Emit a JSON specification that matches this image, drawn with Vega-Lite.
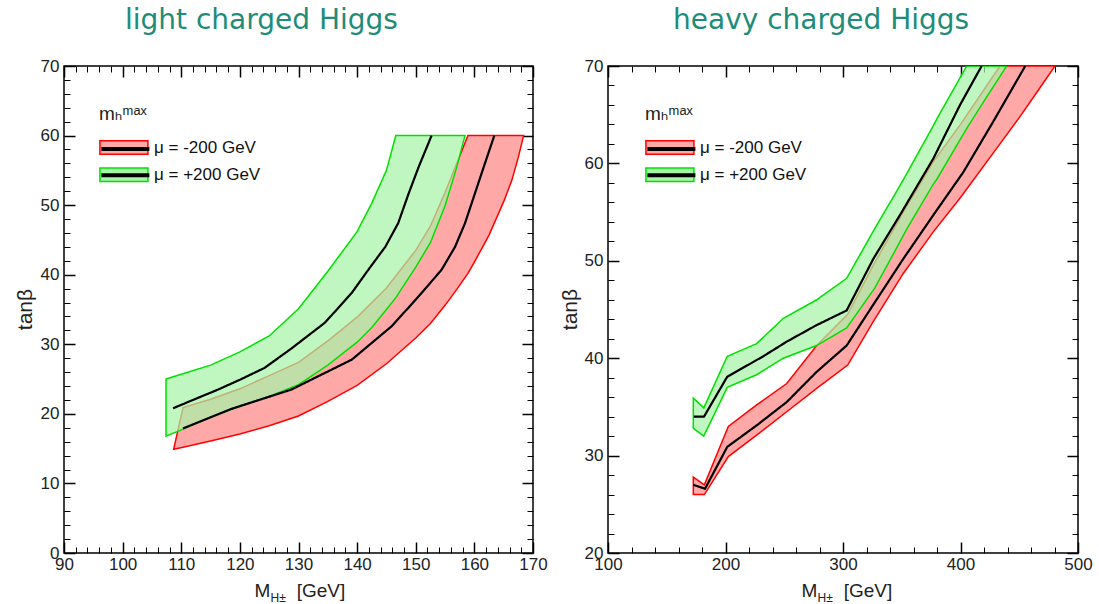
{
  "$schema": "https://vega.github.io/schema/vega-lite/v6.json",
  "background": "white",
  "padding": {"left": 13, "top": 6, "right": 5, "bottom": 5},
  "spacing": 75,
  "bounds": "flush",
  "config": {
    "view": {"stroke": "black", "strokeWidth": 1.5},
    "axis": {
      "grid": false, "domain": false,
      "labelFont": "Liberation Sans", "labelFontSize": 17, "labelColor": "#222",
      "titleFont": "Liberation Sans", "titleFontSize": 19, "titleFontWeight": "normal", "titleColor": "#222",
      "tickColor": "black", "labelFlush": false, "labelOverlap": false
    },
    "legend": {
      "orient": "none", "direction": "vertical", "padding": 0,
      "titleFont": "Liberation Sans, DejaVu Sans", "titleFontSize": 19, "titleFontWeight": "normal", "titleColor": "#222",
      "titlePadding": 13,
      "labelFont": "Liberation Sans", "labelFontSize": 17, "labelColor": "#111",
      "symbolSize": 369, "rowPadding": 6.2, "labelOffset": 34
    }
  },
  "datasets": {
    "lb": [
      {"mu": "μ = -200 GeV", "x": 108.7, "lo": 14.9, "hi": 14.9},
      {"mu": "μ = -200 GeV", "x": 110.3, "lo": 15.2, "hi": 20.9},
      {"mu": "μ = -200 GeV", "x": 115, "lo": 16.1, "hi": 22.1},
      {"mu": "μ = -200 GeV", "x": 120, "lo": 17.1, "hi": 23.6},
      {"mu": "μ = -200 GeV", "x": 125, "lo": 18.3, "hi": 25.5},
      {"mu": "μ = -200 GeV", "x": 130, "lo": 19.7, "hi": 27.4},
      {"mu": "μ = -200 GeV", "x": 135, "lo": 21.8, "hi": 30.5},
      {"mu": "μ = -200 GeV", "x": 140, "lo": 24.1, "hi": 33.9},
      {"mu": "μ = -200 GeV", "x": 145, "lo": 27.2, "hi": 38.1},
      {"mu": "μ = -200 GeV", "x": 150, "lo": 30.9, "hi": 43.5},
      {"mu": "μ = -200 GeV", "x": 152.5, "lo": 33.0, "hi": 47.0},
      {"mu": "μ = -200 GeV", "x": 155, "lo": 35.6, "hi": 51.8},
      {"mu": "μ = -200 GeV", "x": 157, "lo": 37.9, "hi": 56.0},
      {"mu": "μ = -200 GeV", "x": 158.9, "lo": 40.2, "hi": 60},
      {"mu": "μ = -200 GeV", "x": 160, "lo": 41.8, "hi": 60},
      {"mu": "μ = -200 GeV", "x": 162.5, "lo": 45.7, "hi": 60},
      {"mu": "μ = -200 GeV", "x": 165, "lo": 50.5, "hi": 60},
      {"mu": "μ = -200 GeV", "x": 166.4, "lo": 53.6, "hi": 60},
      {"mu": "μ = -200 GeV", "x": 167.5, "lo": 56.9, "hi": 60},
      {"mu": "μ = -200 GeV", "x": 168.4, "lo": 60, "hi": 60},
      {"mu": "μ = +200 GeV", "x": 107.4, "lo": 16.8, "hi": 25.0},
      {"mu": "μ = +200 GeV", "x": 110, "lo": 17.7, "hi": 25.7},
      {"mu": "μ = +200 GeV", "x": 115, "lo": 19.5, "hi": 27.0},
      {"mu": "μ = +200 GeV", "x": 120, "lo": 21.1, "hi": 28.9},
      {"mu": "μ = +200 GeV", "x": 125, "lo": 22.5, "hi": 31.2},
      {"mu": "μ = +200 GeV", "x": 130, "lo": 24.2, "hi": 35.1},
      {"mu": "μ = +200 GeV", "x": 135, "lo": 27.0, "hi": 40.5},
      {"mu": "μ = +200 GeV", "x": 140, "lo": 30.3, "hi": 46.2},
      {"mu": "μ = +200 GeV", "x": 142.5, "lo": 32.4, "hi": 50.3},
      {"mu": "μ = +200 GeV", "x": 145, "lo": 35.0, "hi": 55.0},
      {"mu": "μ = +200 GeV", "x": 146.6, "lo": 36.7, "hi": 60},
      {"mu": "μ = +200 GeV", "x": 150, "lo": 41.1, "hi": 60},
      {"mu": "μ = +200 GeV", "x": 152.5, "lo": 44.6, "hi": 60},
      {"mu": "μ = +200 GeV", "x": 155, "lo": 49.9, "hi": 60},
      {"mu": "μ = +200 GeV", "x": 157, "lo": 55.5, "hi": 60},
      {"mu": "μ = +200 GeV", "x": 158.4, "lo": 60, "hi": 60}
    ],
    "lc": [
      {"band": "+200", "x": 108.6, "y": 20.8},
      {"band": "+200", "x": 112, "y": 22.0},
      {"band": "+200", "x": 116.3, "y": 23.5},
      {"band": "+200", "x": 120, "y": 24.9},
      {"band": "+200", "x": 124.2, "y": 26.6},
      {"band": "+200", "x": 128.8, "y": 29.4},
      {"band": "+200", "x": 134.5, "y": 33.1},
      {"band": "+200", "x": 139.1, "y": 37.4},
      {"band": "+200", "x": 141.9, "y": 40.7},
      {"band": "+200", "x": 144.8, "y": 44.0},
      {"band": "+200", "x": 147.0, "y": 47.4},
      {"band": "+200", "x": 148.8, "y": 51.7},
      {"band": "+200", "x": 150.5, "y": 55.5},
      {"band": "+200", "x": 152.7, "y": 60},
      {"band": "-200", "x": 110.3, "y": 17.9},
      {"band": "-200", "x": 118.5, "y": 20.7},
      {"band": "-200", "x": 128.8, "y": 23.5},
      {"band": "-200", "x": 139.1, "y": 27.8},
      {"band": "-200", "x": 145.9, "y": 32.6},
      {"band": "-200", "x": 150.5, "y": 36.9},
      {"band": "-200", "x": 154.4, "y": 40.7},
      {"band": "-200", "x": 156.7, "y": 44.0},
      {"band": "-200", "x": 158.4, "y": 47.4},
      {"band": "-200", "x": 160.1, "y": 51.7},
      {"band": "-200", "x": 161.8, "y": 56.0},
      {"band": "-200", "x": 163.4, "y": 60}
    ],
    "hb": [
      {"mu": "μ = -200 GeV", "x": 172.6, "lo": 26.0, "hi": 27.8},
      {"mu": "μ = -200 GeV", "x": 182, "lo": 26.0, "hi": 27.0},
      {"mu": "μ = -200 GeV", "x": 202.4, "lo": 29.9, "hi": 33.0},
      {"mu": "μ = -200 GeV", "x": 226.5, "lo": 32.1, "hi": 35.2},
      {"mu": "μ = -200 GeV", "x": 252.1, "lo": 34.5, "hi": 37.4},
      {"mu": "μ = -200 GeV", "x": 277.6, "lo": 36.9, "hi": 41.3},
      {"mu": "μ = -200 GeV", "x": 304, "lo": 39.3, "hi": 44.5},
      {"mu": "μ = -200 GeV", "x": 326, "lo": 43.8, "hi": 49.6},
      {"mu": "μ = -200 GeV", "x": 351.3, "lo": 48.7, "hi": 55.0},
      {"mu": "μ = -200 GeV", "x": 377, "lo": 53.0, "hi": 60.2},
      {"mu": "μ = -200 GeV", "x": 400, "lo": 56.5, "hi": 64.0},
      {"mu": "μ = -200 GeV", "x": 433.6, "lo": 62.0, "hi": 70},
      {"mu": "μ = -200 GeV", "x": 450, "lo": 64.7, "hi": 70},
      {"mu": "μ = -200 GeV", "x": 465, "lo": 67.3, "hi": 70},
      {"mu": "μ = -200 GeV", "x": 480.4, "lo": 70, "hi": 70},
      {"mu": "μ = +200 GeV", "x": 172.6, "lo": 32.8, "hi": 35.9},
      {"mu": "μ = +200 GeV", "x": 181.5, "lo": 32.0, "hi": 34.9},
      {"mu": "μ = +200 GeV", "x": 201.5, "lo": 37.0, "hi": 40.2},
      {"mu": "μ = +200 GeV", "x": 226.5, "lo": 38.3, "hi": 41.5},
      {"mu": "μ = +200 GeV", "x": 249.2, "lo": 40.0, "hi": 44.1},
      {"mu": "μ = +200 GeV", "x": 277.6, "lo": 41.3, "hi": 46.0},
      {"mu": "μ = +200 GeV", "x": 303.1, "lo": 43.1, "hi": 48.2},
      {"mu": "μ = +200 GeV", "x": 327, "lo": 47.2, "hi": 53.3},
      {"mu": "μ = +200 GeV", "x": 346, "lo": 51.4, "hi": 57.2},
      {"mu": "μ = +200 GeV", "x": 354, "lo": 53.2, "hi": 58.9},
      {"mu": "μ = +200 GeV", "x": 377, "lo": 57.9, "hi": 63.9},
      {"mu": "μ = +200 GeV", "x": 380, "lo": 58.4, "hi": 64.6},
      {"mu": "μ = +200 GeV", "x": 405.3, "lo": 63.6, "hi": 70},
      {"mu": "μ = +200 GeV", "x": 420, "lo": 66.4, "hi": 70},
      {"mu": "μ = +200 GeV", "x": 439.3, "lo": 70, "hi": 70}
    ],
    "hc": [
      {"band": "+200", "x": 173, "y": 34.0},
      {"band": "+200", "x": 181.7, "y": 34.0},
      {"band": "+200", "x": 201.5, "y": 38.1},
      {"band": "+200", "x": 232.2, "y": 40.2},
      {"band": "+200", "x": 252.1, "y": 41.7},
      {"band": "+200", "x": 277.6, "y": 43.4},
      {"band": "+200", "x": 303.1, "y": 44.9},
      {"band": "+200", "x": 325.8, "y": 50.2},
      {"band": "+200", "x": 348.5, "y": 54.7},
      {"band": "+200", "x": 376.9, "y": 60.5},
      {"band": "+200", "x": 399.6, "y": 66.0},
      {"band": "+200", "x": 418, "y": 70},
      {"band": "-200", "x": 172.6, "y": 27.0},
      {"band": "-200", "x": 182.6, "y": 26.6},
      {"band": "-200", "x": 201.5, "y": 30.9},
      {"band": "-200", "x": 226.5, "y": 33.1},
      {"band": "-200", "x": 252.1, "y": 35.5},
      {"band": "-200", "x": 277.6, "y": 38.6},
      {"band": "-200", "x": 303.1, "y": 41.3},
      {"band": "-200", "x": 325.8, "y": 45.5},
      {"band": "-200", "x": 351.3, "y": 50.2},
      {"band": "-200", "x": 376.9, "y": 54.7},
      {"band": "-200", "x": 402.4, "y": 59.1},
      {"band": "-200", "x": 427.9, "y": 64.3},
      {"band": "-200", "x": 455.1, "y": 70}
    ]
  },
  "hconcat": [
    {
      "width": 469, "height": 487,
      "title": {"text": "light charged Higgs", "anchor": "start", "frame": "group", "dx": 61, "offset": 0, "baseline": "alphabetic", "font": "DejaVu Sans", "fontSize": 28, "fontWeight": "normal", "color": "#1e8c78"},
      "layer": [
        {
          "data": {"name": "lb"},
          "transform": [{"filter": "datum.mu === 'μ = -200 GeV'"}],
          "mark": {"type": "area", "strokeWidth": 1.5, "fillOpacity": 1, "clip": true},
          "encoding": {
            "x": {"field": "x", "type": "quantitative", "scale": {"domain": [90, 170], "nice": false, "zero": false},
              "axis": {"orient": "bottom", "values": [90,92,94,96,98,100,102,104,106,108,110,112,114,116,118,120,122,124,126,128,130,132,134,136,138,140,142,144,146,148,150,152,154,156,158,160,162,164,166,168,170],
                "labelExpr": "datum.value % 10 === 0 ? datum.label : ''",
                "tickSize": {"condition": {"test": "datum.value % 10 === 0", "value": -11}, "value": -6},
                "tickWidth": {"condition": {"test": "datum.value % 10 === 0", "value": 1.5}, "value": 1},
                "labelPadding": 14,
                "title": "M\u00a0\u00a0\u00a0\u00a0\u00a0[GeV]", "titleX": 190, "titleY": 43, "titleAlign": "left", "titleBaseline": "alphabetic"}},
            "y": {"field": "hi", "type": "quantitative", "scale": {"domain": [0, 70], "nice": false, "zero": false},
              "axis": {"orient": "left", "values": [0,2,4,6,8,10,12,14,16,18,20,22,24,26,28,30,32,34,36,38,40,42,44,46,48,50,52,54,56,58,60,62,64,66,68,70],
                "labelExpr": "datum.value % 10 === 0 ? datum.label : ''",
                "tickSize": {"condition": {"test": "datum.value % 10 === 0", "value": -11}, "value": -6},
                "tickWidth": {"condition": {"test": "datum.value % 10 === 0", "value": 1.5}, "value": 1},
                "labelPadding": 16,
                "title": "tanβ", "titleFontSize": 21, "titleX": -39, "titleY": 243, "titleAngle": -90, "titleAlign": "center", "titleBaseline": "middle"}},
            "y2": {"field": "lo"},
            "fill": {"field": "mu", "type": "nominal", "scale": {"domain": ["μ = -200 GeV", "μ = +200 GeV"], "range": ["#ffa8a8", "#a8f4a8"]},
              "legend": {"title": "mₕᵐᵃˣ", "legendX": 35, "legendY": 39, "symbolType": "M-1,-0.7H4V0.7H-1Z", "symbolStrokeWidth": 1.5, "symbolOpacity": 1}},
            "stroke": {"field": "mu", "type": "nominal", "scale": {"domain": ["μ = -200 GeV", "μ = +200 GeV"], "range": ["#ff0000", "#00e000"]},
              "legend": {"title": "mₕᵐᵃˣ", "legendX": 35, "legendY": 39, "symbolType": "M-1,-0.7H4V0.7H-1Z", "symbolStrokeWidth": 1.5, "symbolOpacity": 1}}
          }
        },
        {
          "data": {"name": "lb"},
          "transform": [{"filter": "datum.mu === 'μ = +200 GeV'"}],
          "mark": {"type": "area", "strokeWidth": 1.5, "fillOpacity": 0.72, "clip": true},
          "encoding": {
            "x": {"field": "x", "type": "quantitative",
              "axis": {"orient": "bottom", "ticks": false, "labels": false, "domain": false, "title": "H±", "titleFontSize": 12, "titleX": 206, "titleY": 48, "titleAlign": "left", "titleBaseline": "alphabetic"}},
            "y": {"field": "hi", "type": "quantitative", "axis": null},
            "y2": {"field": "lo"},
            "fill": {"field": "mu", "type": "nominal"},
            "stroke": {"field": "mu", "type": "nominal"}
          }
        },
        {
          "data": {"name": "lc"},
          "mark": {"type": "line", "color": "black", "strokeWidth": 2.2, "clip": true},
          "encoding": {
            "x": {"field": "x", "type": "quantitative",
              "axis": {"orient": "top", "values": [90,92,94,96,98,100,102,104,106,108,110,112,114,116,118,120,122,124,126,128,130,132,134,136,138,140,142,144,146,148,150,152,154,156,158,160,162,164,166,168,170],
                "labels": false, "title": null,
                "tickSize": {"condition": {"test": "datum.value % 10 === 0", "value": -11}, "value": -6},
                "tickWidth": {"condition": {"test": "datum.value % 10 === 0", "value": 1.5}, "value": 1}}},
            "y": {"field": "y", "type": "quantitative",
              "axis": {"orient": "right", "values": [0,2,4,6,8,10,12,14,16,18,20,22,24,26,28,30,32,34,36,38,40,42,44,46,48,50,52,54,56,58,60,62,64,66,68,70],
                "labels": false, "title": null,
                "tickSize": {"condition": {"test": "datum.value % 10 === 0", "value": -11}, "value": -6},
                "tickWidth": {"condition": {"test": "datum.value % 10 === 0", "value": 1.5}, "value": 1}}},
            "strokeDash": {"field": "band", "type": "nominal", "scale": {"domain": ["-200", "+200"], "range": [[1, 0], [1, 0]]},
              "legend": {"title": "mₕᵐᵃˣ", "titleOpacity": 0, "labelOpacity": 0, "legendX": 35, "legendY": 39, "symbolType": "M-1,0H4", "symbolStrokeWidth": 4, "symbolStrokeColor": "black", "symbolFillColor": "transparent"}}
          }
        }
      ],
      "resolve": {"axis": {"x": "independent", "y": "independent"}}
    },
    {
      "width": 470, "height": 487,
      "title": {"text": "heavy charged Higgs", "anchor": "start", "frame": "group", "dx": 65, "offset": 0, "baseline": "alphabetic", "font": "DejaVu Sans", "fontSize": 28, "fontWeight": "normal", "color": "#1e8c78"},
      "layer": [
        {
          "data": {"name": "hb"},
          "transform": [{"filter": "datum.mu === 'μ = -200 GeV'"}],
          "mark": {"type": "area", "strokeWidth": 1.5, "fillOpacity": 1, "clip": true},
          "encoding": {
            "x": {"field": "x", "type": "quantitative", "scale": {"domain": [100, 500], "nice": false, "zero": false},
              "axis": {"orient": "bottom", "values": [100,120,140,160,180,200,220,240,260,280,300,320,340,360,380,400,420,440,460,480,500],
                "labelExpr": "datum.value % 100 === 0 ? datum.label : ''",
                "tickSize": {"condition": {"test": "datum.value % 100 === 0", "value": -11}, "value": -6},
                "tickWidth": {"condition": {"test": "datum.value % 100 === 0", "value": 1.5}, "value": 1},
                "labelPadding": 14,
                "title": "M\u00a0\u00a0\u00a0\u00a0\u00a0[GeV]", "titleX": 193, "titleY": 43, "titleAlign": "left", "titleBaseline": "alphabetic"}},
            "y": {"field": "hi", "type": "quantitative", "scale": {"domain": [20, 70], "nice": false, "zero": false},
              "axis": {"orient": "left", "values": [20,22,24,26,28,30,32,34,36,38,40,42,44,46,48,50,52,54,56,58,60,62,64,66,68,70],
                "labelExpr": "datum.value % 10 === 0 ? datum.label : ''",
                "tickSize": {"condition": {"test": "datum.value % 10 === 0", "value": -11}, "value": -6},
                "tickWidth": {"condition": {"test": "datum.value % 10 === 0", "value": 1.5}, "value": 1},
                "labelPadding": 16,
                "title": "tanβ", "titleFontSize": 21, "titleX": -38, "titleY": 243, "titleAngle": -90, "titleAlign": "center", "titleBaseline": "middle"}},
            "y2": {"field": "lo"},
            "fill": {"field": "mu", "type": "nominal", "scale": {"domain": ["μ = -200 GeV", "μ = +200 GeV"], "range": ["#ffa8a8", "#a8f4a8"]},
              "legend": {"title": "mₕᵐᵃˣ", "legendX": 37, "legendY": 39, "symbolType": "M-1,-0.7H4V0.7H-1Z", "symbolStrokeWidth": 1.5, "symbolOpacity": 1}},
            "stroke": {"field": "mu", "type": "nominal", "scale": {"domain": ["μ = -200 GeV", "μ = +200 GeV"], "range": ["#ff0000", "#00e000"]},
              "legend": {"title": "mₕᵐᵃˣ", "legendX": 37, "legendY": 39, "symbolType": "M-1,-0.7H4V0.7H-1Z", "symbolStrokeWidth": 1.5, "symbolOpacity": 1}}
          }
        },
        {
          "data": {"name": "hb"},
          "transform": [{"filter": "datum.mu === 'μ = +200 GeV'"}],
          "mark": {"type": "area", "strokeWidth": 1.5, "fillOpacity": 0.72, "clip": true},
          "encoding": {
            "x": {"field": "x", "type": "quantitative",
              "axis": {"orient": "bottom", "ticks": false, "labels": false, "domain": false, "title": "H±", "titleFontSize": 12, "titleX": 209, "titleY": 48, "titleAlign": "left", "titleBaseline": "alphabetic"}},
            "y": {"field": "hi", "type": "quantitative", "axis": null},
            "y2": {"field": "lo"},
            "fill": {"field": "mu", "type": "nominal"},
            "stroke": {"field": "mu", "type": "nominal"}
          }
        },
        {
          "data": {"name": "hc"},
          "mark": {"type": "line", "color": "black", "strokeWidth": 2.2, "clip": true},
          "encoding": {
            "x": {"field": "x", "type": "quantitative",
              "axis": {"orient": "top", "values": [100,120,140,160,180,200,220,240,260,280,300,320,340,360,380,400,420,440,460,480,500],
                "labels": false, "title": null,
                "tickSize": {"condition": {"test": "datum.value % 100 === 0", "value": -11}, "value": -6},
                "tickWidth": {"condition": {"test": "datum.value % 100 === 0", "value": 1.5}, "value": 1}}},
            "y": {"field": "y", "type": "quantitative",
              "axis": {"orient": "right", "values": [20,22,24,26,28,30,32,34,36,38,40,42,44,46,48,50,52,54,56,58,60,62,64,66,68,70],
                "labels": false, "title": null,
                "tickSize": {"condition": {"test": "datum.value % 10 === 0", "value": -11}, "value": -6},
                "tickWidth": {"condition": {"test": "datum.value % 10 === 0", "value": 1.5}, "value": 1}}},
            "strokeDash": {"field": "band", "type": "nominal", "scale": {"domain": ["-200", "+200"], "range": [[1, 0], [1, 0]]},
              "legend": {"title": "mₕᵐᵃˣ", "titleOpacity": 0, "labelOpacity": 0, "legendX": 37, "legendY": 39, "symbolType": "M-1,0H4", "symbolStrokeWidth": 4, "symbolStrokeColor": "black", "symbolFillColor": "transparent"}}
          }
        }
      ],
      "resolve": {"axis": {"x": "independent", "y": "independent"}}
    }
  ],
  "resolve": {
    "scale": {"fill": "independent", "stroke": "independent", "strokeDash": "independent"},
    "legend": {"fill": "independent", "stroke": "independent", "strokeDash": "independent"}
  }
}
